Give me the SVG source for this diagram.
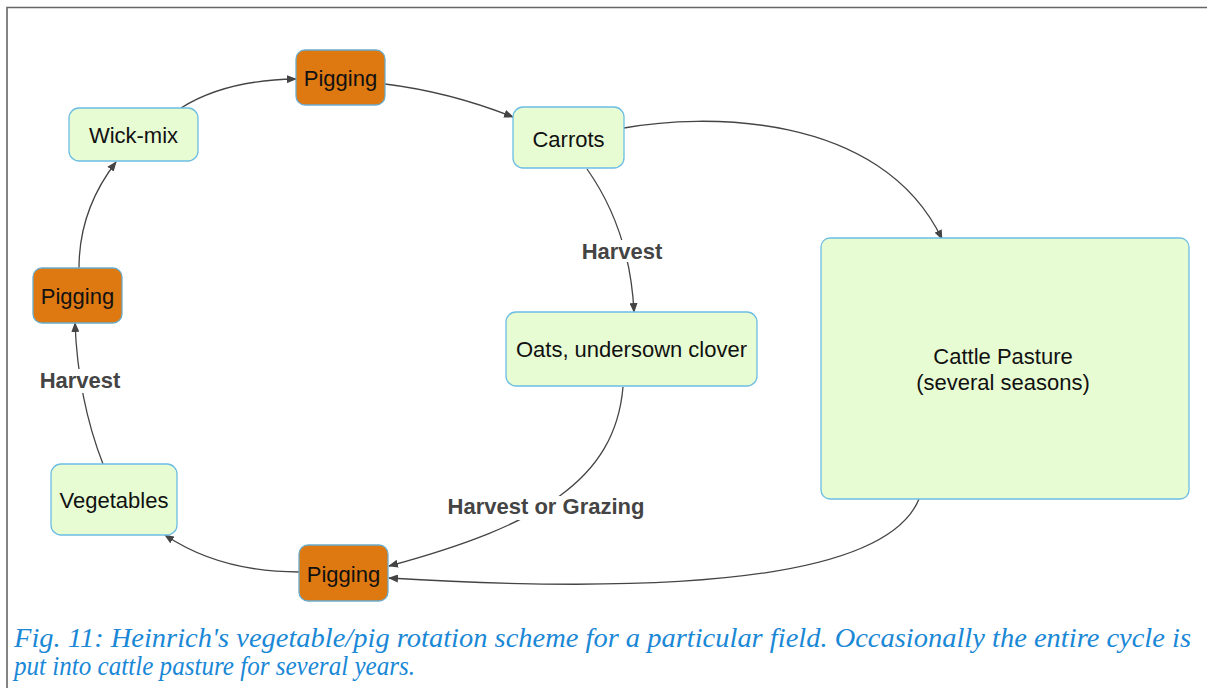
<svg xmlns="http://www.w3.org/2000/svg" width="1207" height="688" viewBox="0 0 1207 688">
<defs>
<marker id="arr" markerWidth="10" markerHeight="8" refX="9" refY="4" orient="auto" markerUnits="userSpaceOnUse">
<path d="M0,0 L10,4 L0,8 z" fill="#444"/>
</marker>
<style>
.g{fill:#e8fcd4;stroke:#6cbde3;stroke-width:1.3}
.o{fill:#de7811;stroke:#6aaccc;stroke-width:1.3}
.t{font-family:"Liberation Sans",Arial,sans-serif;font-size:22px;fill:#111;text-anchor:middle}
.e{fill:none;stroke:#444;stroke-width:1.3;marker-end:url(#arr)}
.l{font-family:"Liberation Sans",Arial,sans-serif;font-size:22px;font-weight:bold;fill:#444;text-anchor:middle}
.c{font-family:"Liberation Serif","Times New Roman",serif;font-style:italic;font-size:28px;fill:#1a88d6}
</style>
</defs>
<rect width="1207" height="688" fill="#fff"/>
<path d="M7,688 V7.5 H1207" fill="none" stroke="#666" stroke-width="1.6"/>
<g id="connectors">
<path class="e" d="M181,108 Q225,80 296,79"/>
<path class="e" d="M385,84 Q450,92 513,117"/>
<path class="e" d="M624,128 C700,114 880,110 942,239"/>
<path class="e" d="M587,169 Q630,230 634,312"/>
<path class="e" d="M623,387 C615,480 540,525 389,566"/>
<path class="e" d="M919,499 C890,570 720,598 389,578"/>
<path class="e" d="M299,572 Q220,572 165,535"/>
<path class="e" d="M103,464 Q78,400 75,323"/>
<path class="e" d="M79,268 Q79,210 116,162"/>
<rect x="580" y="240" width="85" height="22" fill="#fff"/>
<text class="l" x="622" y="259">Harvest</text>
<rect x="38" y="369" width="85" height="24" fill="#fff"/>
<text class="l" x="80" y="388">Harvest</text>
<rect x="445" y="496" width="202" height="24" fill="#fff"/>
<text class="l" x="546" y="514">Harvest or Grazing</text>
</g>
<g id="wickmix"><rect class="g" x="69" y="108" width="129" height="53" rx="10"/><text class="t" x="133.5" y="143">Wick-mix</text></g>
<g id="pigging1"><rect class="o" x="296" y="50" width="89" height="55" rx="9"/><text class="t" x="340.5" y="86">Pigging</text></g>
<g id="carrots"><rect class="g" x="513" y="107" width="111" height="61" rx="10"/><text class="t" x="568.5" y="146.5">Carrots</text></g>
<g id="pigging2"><rect class="o" x="33" y="268" width="89" height="55" rx="9"/><text class="t" x="77.5" y="303.5">Pigging</text></g>
<g id="oats"><rect class="g" x="506" y="312" width="251" height="74" rx="10"/><text class="t" x="631.5" y="357">Oats, undersown clover</text></g>
<g id="cattle"><rect class="g" x="821" y="238" width="368" height="261" rx="9"/><text class="t" x="1003" y="364">Cattle Pasture</text><text class="t" x="1003" y="390">(several seasons)</text></g>
<g id="vegetables"><rect class="g" x="51" y="464" width="126" height="71" rx="10"/><text class="t" x="114" y="508">Vegetables</text></g>
<g id="pigging3"><rect class="o" x="299" y="545" width="89" height="56" rx="9"/><text class="t" x="343.5" y="581.5">Pigging</text></g>
<g id="caption">
<text class="c" x="14" y="647" textLength="1177" lengthAdjust="spacingAndGlyphs">Fig. 11: Heinrich's vegetable/pig rotation scheme for a particular field. Occasionally the entire cycle is</text>
<text class="c" x="14" y="675" textLength="401" lengthAdjust="spacingAndGlyphs">put into cattle pasture for several years.</text>
</g>
</svg>
